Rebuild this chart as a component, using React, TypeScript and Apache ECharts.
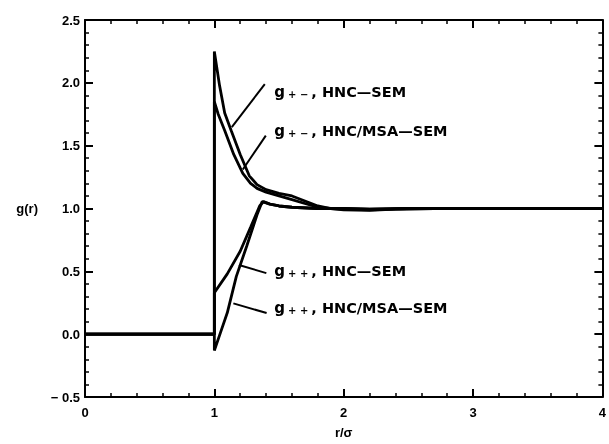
import React, { useEffect, useRef } from "react";
import * as echarts from "echarts";

const W = 609;
const H = 444;

// g+- from HNC–SEM
const rPmHnc = [0, 1, 1, 1.04, 1.08, 1.13, 1.2, 1.27, 1.33, 1.4, 1.5, 1.6, 1.7, 1.8, 1.9, 2.0, 2.2, 2.4, 2.7, 3.0, 3.5, 4.0];
const gPmHnc = [0, 0, 2.25, 1.98, 1.76, 1.62, 1.43, 1.26, 1.19, 1.15, 1.12, 1.1, 1.06, 1.02, 1.0, 0.995, 0.99, 0.995, 1.0, 1.0, 1.0, 1.0];

// g+- from HNC/MSA–SEM
const rPmMsa = [0, 1, 1, 1.03, 1.08, 1.15, 1.22, 1.28, 1.33, 1.4, 1.5, 1.6, 1.7, 1.8, 1.9, 2.0, 2.2, 2.4, 2.7, 3.0, 3.5, 4.0];
const gPmMsa = [0, 0, 1.85, 1.75, 1.62, 1.43, 1.28, 1.2, 1.16, 1.13, 1.1, 1.07, 1.04, 1.01, 1.0, 0.99, 0.985, 0.995, 1.0, 1.0, 1.0, 1.0];

// g++ from HNC–SEM
const rPpHnc = [0, 1, 1, 1.1, 1.2, 1.28, 1.35, 1.38, 1.43, 1.5, 1.6, 1.8, 2.0, 2.2, 2.5, 3.0, 3.5, 4.0];
const gPpHnc = [0, 0, 0.33, 0.48, 0.66, 0.85, 1.02, 1.055, 1.035, 1.02, 1.01, 1.0, 1.0, 0.995, 1.0, 1.0, 1.0, 1.0];

// g++ from HNC/MSA–SEM
const rPpMsa = [0, 1, 1, 1.05, 1.1, 1.17, 1.25, 1.33, 1.37, 1.43, 1.5, 1.6, 1.8, 2.0, 2.2, 2.5, 3.0, 3.5, 4.0];
const gPpMsa = [0, 0, -0.13, 0.02, 0.17, 0.46, 0.7, 0.95, 1.055, 1.035, 1.02, 1.01, 1.0, 1.0, 0.995, 1.0, 1.0, 1.0, 1.0];

// Curve captions and their pointer lines (data coordinates)
const labelCharges = ["+ \u2212", "+ \u2212", "+ +", "+ +"];
const labelMethods = ["HNC\u2014SEM", "HNC/MSA\u2014SEM", "HNC\u2014SEM", "HNC/MSA\u2014SEM"];
const labelAnchors = [
  [1.464, 1.942],
  [1.464, 1.632],
  [1.464, 0.518],
  [1.464, 0.224],
];
const pointerStarts = [
  [1.39, 1.99],
  [1.398, 1.58],
  [1.402, 0.486],
  [1.404, 0.168],
];
const pointerEnds = [
  [1.135, 1.648],
  [1.22, 1.31],
  [1.19, 0.55],
  [1.147, 0.245],
];

const FONT = "'Liberation Sans', Arial, sans-serif";
const ANNOT_FONT = "'DejaVu Sans', sans-serif";

const zip = (xs: number[], ys: number[]) => xs.map((x, i) => [x, ys[i]]);

function yLabel(v: any) {
  const n = Number(v);
  if (!isFinite(n)) return "";
  return n < 0 ? "\u2212 " + Math.abs(n).toFixed(1) : n.toFixed(1);
}

function frameAxis(pos: string, isX: boolean) {
  const main = pos === "bottom" || pos === "left";
  const a: any = {
    type: "value",
    position: pos,
    min: isX ? 0 : -0.5,
    max: isX ? 4 : 2.5,
    interval: isX ? 1 : 0.5,
    axisLine: { show: true, onZero: false, lineStyle: { color: "#000", width: 2 } },
    axisTick: { show: true, inside: true, length: 8, lineStyle: { color: "#000", width: 2 } },
    minorTick: { show: true, splitNumber: 5, length: 4, lineStyle: { color: "#000", width: 1.5 } },
    splitLine: { show: false },
    axisLabel: main
      ? { show: true, color: "#000", fontFamily: FONT, fontWeight: "bold", fontSize: 13, margin: isX ? 9 : 5 }
      : { show: false },
  };
  if (main && !isX) a.axisLabel.formatter = yLabel;
  if (main && isX) {
    a.name = "r/\u03c3";
    a.nameLocation = "middle";
    a.nameGap = 29;
  }
  if (main && !isX) {
    a.name = "g(r)";
    a.nameLocation = "middle";
    a.nameRotate = 0;
    a.nameGap = 47;
  }
  return a;
}

export default function App() {
  const ref = useRef<HTMLDivElement>(null);

  useEffect(() => {
    if (!ref.current) return;
    const chart = echarts.init(ref.current, undefined, { renderer: "svg", width: W, height: H });

    const lineSeries = (data: number[][]) => ({
      type: "line",
      data,
      showSymbol: false,
      lineStyle: { color: "#000", width: 2.8 },
    });

    const richStyles = {
      g: { fontFamily: ANNOT_FONT, fontWeight: "bold", fontSize: 15, color: "#000", lineHeight: 18, verticalAlign: "bottom" },
      s: { fontFamily: ANNOT_FONT, fontWeight: "bold", fontSize: 10, color: "#000", lineHeight: 14, verticalAlign: "bottom", padding: [0, 3, 0, 3] },
      t: { fontFamily: ANNOT_FONT, fontWeight: "bold", fontSize: 14.5, color: "#000", lineHeight: 18, verticalAlign: "bottom" },
    };

    chart.setOption({
      animation: false,
      grid: { left: 85, right: 6, top: 20, bottom: 47 },
      xAxis: [frameAxis("bottom", true), frameAxis("top", true)],
      yAxis: [frameAxis("left", false), frameAxis("right", false)],
      textStyle: { fontFamily: FONT, fontWeight: "bold", fontSize: 13, color: "#000" },
      series: [
        lineSeries(zip(rPmHnc, gPmHnc)),
        lineSeries(zip(rPmMsa, gPmMsa)),
        lineSeries(zip(rPpHnc, gPpHnc)),
        lineSeries(zip(rPpMsa, gPpMsa)),
        {
          type: "line",
          data: [],
          markLine: {
            silent: true,
            symbol: "none",
            label: { show: false },
            lineStyle: { color: "#000", width: 2, type: "solid" },
            data: pointerStarts.map((s, i) => [{ coord: s }, { coord: pointerEnds[i] }]),
          },
        },
        {
          type: "scatter",
          symbolSize: 0,
          itemStyle: { opacity: 1, color: "#000" },
          data: labelAnchors,
          label: {
            show: true,
            position: "right",
            distance: 0,
            color: "#000",
            opacity: 1,
            formatter: (p: any) =>
              `{g|g}{s|${labelCharges[p.dataIndex]}}{t|, ${labelMethods[p.dataIndex]}}`,
            rich: richStyles,
          },
        },
      ],
    });

    return () => chart.dispose();
  }, []);

  return <div ref={ref} style={{ position: "fixed", left: 0, top: 0, width: W, height: H }} />;
}
